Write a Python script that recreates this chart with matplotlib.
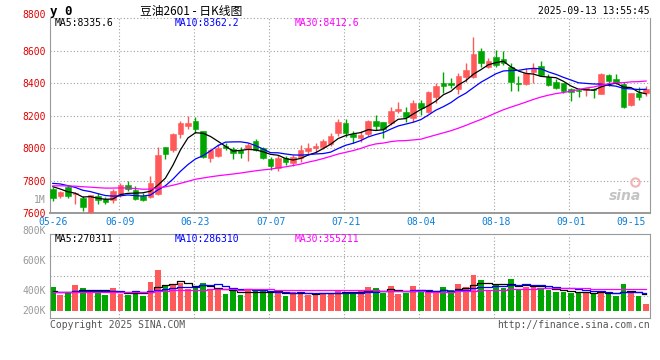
import matplotlib.pyplot as plt
import numpy as np

plt.rcParams['font.family'] = ['DejaVu Sans Mono']

# daily K-line, 05-26 .. 09-15 (index 0..79)
opens = [7750, 7709, 7764, 7717, 7692, 7603, 7708, 7688, 7680, 7711,
         7774, 7743, 7708, 7702, 7718, 8006, 7989, 8088, 8139, 8168,
         8104, 7942, 7955, 8016, 7996, 7989, 7996, 8045, 8000, 7934,
         7881, 7942, 7907, 7938, 7985, 8004, 8006, 8026, 8096, 8158,
         8088, 8065, 8088, 8168, 8164, 8153, 8231, 8221, 8184, 8280,
         8225, 8317, 8403, 8403, 8362, 8440, 8440, 8598, 8498, 8559,
         8549, 8502, 8403, 8393, 8471, 8508, 8440, 8410, 8399, 8364,
         8358, 8360, 8366, 8334, 8451, 8426, 8393, 8266, 8338, 8338]
highs = [7764, 7735, 7774, 7730, 7708, 7712, 7722, 7702, 7748, 7786,
         7797, 7768, 7722, 7832, 8006, 8006, 8092, 8168, 8198, 8192,
         8106, 7995, 8024, 8030, 8010, 8010, 8030, 8057, 8010, 7944,
         7958, 7952, 7959, 8020, 8030, 8030, 8057, 8092, 8178, 8178,
         8106, 8106, 8174, 8205, 8164, 8256, 8282, 8252, 8297, 8297,
         8352, 8399, 8471, 8430, 8461, 8522, 8682, 8619, 8553, 8604,
         8598, 8522, 8446, 8492, 8522, 8537, 8457, 8424, 8399, 8369,
         8369, 8373, 8369, 8465, 8457, 8457, 8406, 8342, 8375, 8383]
lows = [7678, 7692, 7692, 7657, 7614, 7600, 7655, 7655, 7662, 7700,
        7735, 7680, 7676, 7692, 7715, 7932, 7979, 8065, 8119, 8092,
        7940, 7918, 7944, 7989, 7934, 7942, 7922, 7983, 7934, 7866,
        7860, 7897, 7891, 7918, 7959, 7979, 7993, 8014, 8075, 8071,
        8035, 8041, 8075, 8112, 8061, 8143, 8215, 8164, 8164, 8205,
        8219, 8276, 8338, 8369, 8332, 8406, 8434, 8502, 8492, 8502,
        8512, 8354, 8354, 8389, 8399, 8444, 8385, 8365, 8338, 8293,
        8317, 8324, 8311, 8334, 8385, 8393, 8246, 8262, 8297, 8321]
closes = [7696, 7733, 7706, 7727, 7637, 7712, 7682, 7672, 7737, 7773,
          7749, 7690, 7682, 7786, 7959, 7965, 8088, 8153, 8153, 8119,
          7948, 7990, 8004, 7999, 7973, 7969, 8020, 7989, 7942, 7893,
          7942, 7918, 7944, 7989, 7999, 8014, 8045, 8077, 8164, 8092,
          8067, 8082, 8168, 8137, 8116, 8229, 8241, 8190, 8280, 8250,
          8348, 8383, 8383, 8387, 8446, 8481, 8580, 8522, 8539, 8512,
          8522, 8410, 8393, 8465, 8492, 8451, 8389, 8373, 8354, 8348,
          8352, 8373, 8358, 8457, 8416, 8399, 8252, 8342, 8317, 8363]
volumes_k = [390, 260, 288, 423, 374, 336, 301, 260, 374, 276,
             260, 297, 249, 471, 666, 398, 423, 455, 362, 382,
             455, 346, 349, 276, 317, 260, 358, 317, 317, 297,
             317, 244, 301, 309, 260, 276, 288, 288, 341, 314,
             288, 325, 385, 374, 288, 401, 271, 288, 406, 314,
             314, 288, 390, 341, 439, 390, 585, 504, 330, 423,
             379, 520, 362, 395, 395, 358, 341, 314, 314, 288,
             288, 314, 288, 330, 276, 249, 439, 304, 249, 114]

# 29 sessions before 05-26 (not shown), guessed from where the MA lines start
closes_before = [7712, 7738, 7760, 7745, 7790, 7776, 7752, 7730, 7748, 7770,
                 7786, 7804, 7768, 7742, 7758, 7790, 7812, 7776, 7734, 7722,
                 7768, 7810, 7836, 7812, 7794, 7806, 7790, 7772, 7756]
volumes_before_k = [322, 296, 341, 287, 305, 318, 276, 334, 299, 312,
                    288, 327, 301, 315, 342, 279, 308, 296, 331, 304,
                    287, 319, 298, 336, 310, 293, 285, 324, 302]

date_labels = ['05-26', '06-09', '06-23', '07-07', '07-21', '08-04', '08-18', '09-01', '09-15']
date_idx = [0, 9, 19, 29, 39, 49, 59, 69, 79]
price_ticks = [7600, 7800, 8000, 8200, 8400, 8600, 8800]

ma_price_txt = ['MA5:8335.6', 'MA10:8362.2', 'MA30:8412.6']
ma_vol_txt = ['MA5:270311', 'MA10:286310', 'MA30:355211']

RED = '#ff5959'
GREEN = '#00a600'
GRID = '#a0a0a0'
EDGE = '#999999'
MA_COLORS = ['black', '#0000ff', '#ff00ff']

W, H = 660.0, 360.0


def box(x0, y0, x1, y1):
    return [x0 / W, 1 - y1 / H, (x1 - x0) / W, (y1 - y0) / H]


def put(x, y, s, **kw):
    fig.text(x / W, 1 - y / H, s, va='center', **kw)


def ma(a, n):
    a = np.asarray(a, float)
    return np.convolve(a, np.ones(n) / n, 'valid')


n = len(closes)
x = np.arange(n)
o, h, l, c = (np.array(v, float) for v in (opens, highs, lows, closes))
vol = np.array(volumes_k, float) * 1000
cols = np.where(c >= o, RED, GREEN)

fig = plt.figure(figsize=(6.6, 3.6), dpi=100)
ax = fig.add_axes(box(50, 18.2, 650, 213.3))
axv = fig.add_axes(box(50, 234.3, 650, 317.7))
xlim = (-0.37, 79.52)

# ---- price panel
for y in price_ticks[1:]:
    ax.axhline(y, color=GRID, lw=0.8, ls=(0, (1, 2)), zorder=0, clip_on=False)
for i in date_idx[1:-1]:
    ax.axvline(i - 0.2, color=GRID, lw=0.8, ls=(0, (1, 2)), zorder=0)
    axv.axvline(i - 0.2, color=GRID, lw=0.8, ls=(0, (1, 2)), zorder=0)

ax.vlines(x, l, h, colors=cols, lw=1, zorder=2)
ax.bar(x, np.maximum(np.abs(c - o), 4), 0.74, bottom=np.minimum(o, c),
       color=cols, edgecolor=cols, lw=0.4, zorder=3)

allc = closes_before + closes
for k, col in zip((5, 10, 30), MA_COLORS):
    ax.plot(x, ma(allc, k)[-n:], color=col, lw=0.9, zorder=4)

ax.set_xlim(*xlim)
ax.set_ylim(7600, 8800)
ax.set_yticks(price_ticks[:-1])
ax.tick_params(axis='y', length=0, pad=3, labelcolor='#e00000', labelsize=7)
ax.set_xticks(date_idx)
ax.set_xticklabels(date_labels)
ax.tick_params(axis='x', length=0, pad=3, labelcolor='#0a7fd8', labelsize=7)
ax.get_xticklabels()[-1].set_ha('right')
ax.get_xticklabels()[-1].set_x(79.6)
for s in ('left', 'right'):
    ax.spines[s].set_color(EDGE)
ax.spines['top'].set_visible(False)
ax.spines['bottom'].set_color(EDGE)
ax.spines['bottom'].set_linewidth(1.4)
ax.spines['bottom'].set_linestyle((0, (1, 1)))

# sina watermark
ax.text(0.985, 0.09, 'sina', transform=ax.transAxes, ha='right', va='center',
        fontsize=10, fontstyle='italic', fontweight='bold', color='#c4c4c4',
        family='DejaVu Sans', zorder=1)
ax.plot([0.975], [0.16], transform=ax.transAxes, marker='o', ms=6, mfc='none',
        mec='#f2b3b3', mew=1.5, zorder=1)

# ---- volume panel
for f in (0.264, 0.504, 0.743):
    axv.plot([0, 1], [f, f], transform=axv.transAxes, color=GRID, lw=0.8,
             ls=(0, (1, 2)), zorder=0)
axv.bar(x, vol, 0.76, color=cols, lw=0, zorder=2)
allv = (np.array(volumes_before_k + volumes_k, float) * 1000).tolist()
for k, col in zip((5, 10, 30), MA_COLORS):
    axv.step(x, ma(allv, k)[-n:], where='mid', color=col, lw=0.9, zorder=3)
axv.set_xlim(*xlim)
axv.set_ylim(-109e3, 1246e3)
axv.set_xticks([])
axv.set_yticks([])
for s in axv.spines.values():
    s.set_color(EDGE)

# ---- texts
put(50, 11, 'y 0', fontsize=9, fontweight='bold')
put(140, 11, '豆油2601 - 日K线图', fontsize=8.5,
    family=['Noto Sans CJK SC', 'DejaVu Sans'])
put(650, 11, '2025-09-13 13:55:45', fontsize=7, ha='right')
put(46, 15.5, '8800', fontsize=7, ha='right', color='#e00000')
for xp, s, col in zip((55, 175, 295), ma_price_txt, MA_COLORS):
    put(xp, 23.5, s, fontsize=7, color=col)
for xp, s, col in zip((55, 175, 295), ma_vol_txt, MA_COLORS):
    put(xp, 239.5, s, fontsize=7, color=col)
for yp, s in zip((200, 231, 261, 291, 311), ('1M', '800K', '600K', '400K', '200K')):
    put(46, yp, s, fontsize=7, ha='right', color=EDGE)
put(50, 324.5, 'Copyright 2025 SINA.COM', fontsize=7, color='#555555')
put(650, 324.5, 'http://finance.sina.com.cn', fontsize=7, ha='right', color='#555555')

fig.savefig('out.png', dpi=100)
